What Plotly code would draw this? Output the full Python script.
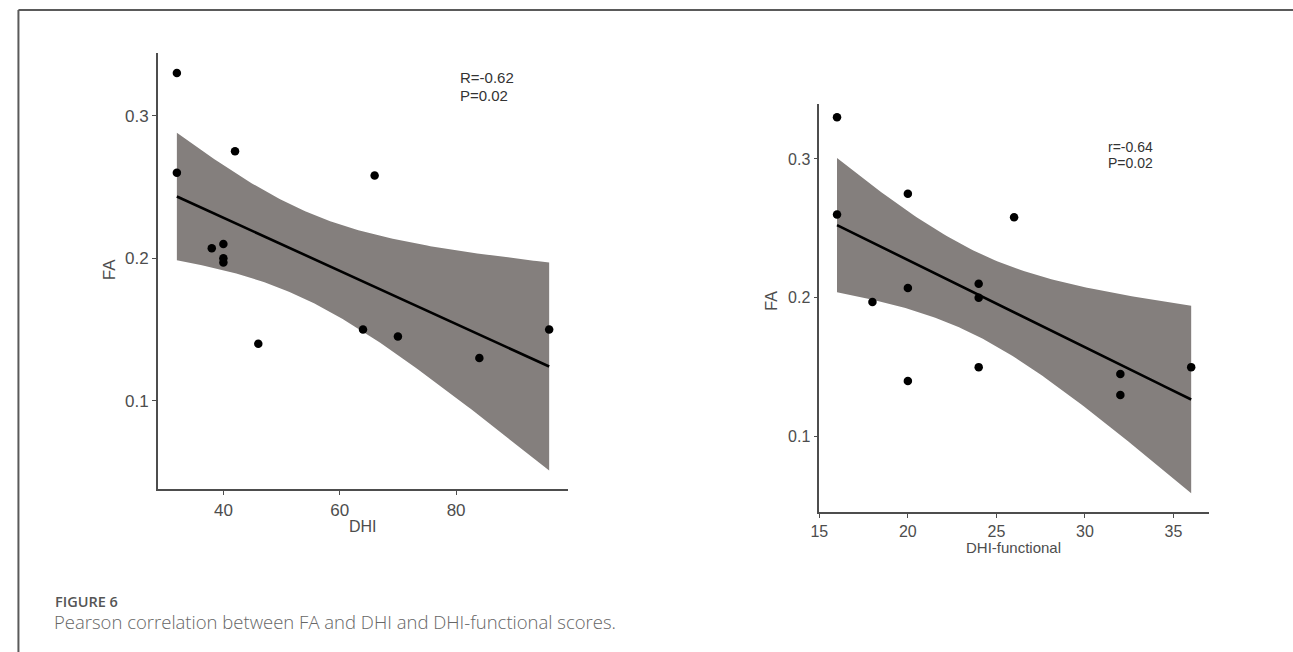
import numpy as np
import plotly.graph_objects as go

# ---------------- data ----------------
fa_values = [0.33, 0.26, 0.275, 0.258, 0.207, 0.21, 0.20, 0.197, 0.14, 0.15, 0.145, 0.13, 0.15]
dhi_values = [32, 32, 42, 66, 38, 40, 40, 40, 46, 64, 70, 84, 96]
dhi_functional_values = [16, 16, 20, 26, 20, 24, 24, 18, 20, 24, 32, 32, 36]

left_xticks = [40, 60, 80]
right_xticks = [15, 20, 25, 30, 35]
fa_ticks = [0.1, 0.2, 0.3]
fa_tick_labels = ["0.1", "0.2", "0.3"]

left_stats = ["R=-0.62", "P=0.02"]
right_stats = ["r=-0.64", "P=0.02"]

T_CRIT = 2.201  # t(0.975, df=11)

W, H = 1293, 652
BAND = "#847f7d"
AXIS = "#4d4d4d"
TICKFONT = "Liberation Sans, Arial, sans-serif"


def px_x(p):
    return p / W


def px_y(p):
    return (H - p) / H


def fit_band(x, y, n=120):
    x = np.asarray(x, float)
    y = np.asarray(y, float)
    slope, intercept = np.polyfit(x, y, 1)
    resid = y - (slope * x + intercept)
    s = np.sqrt(np.sum(resid ** 2) / (len(x) - 2))
    sxx = np.sum((x - x.mean()) ** 2)
    xs = np.linspace(x.min(), x.max(), n)
    yh = slope * xs + intercept
    se = s * np.sqrt(1 / len(x) + (xs - x.mean()) ** 2 / sxx)
    return xs, yh, yh - T_CRIT * se, yh + T_CRIT * se


fig = go.Figure()


def add_panel(x, y, xa, ya):
    xs, yh, lo, hi = fit_band(x, y)
    fig.add_trace(go.Scatter(
        x=np.concatenate([xs, xs[::-1]]), y=np.concatenate([hi, lo[::-1]]),
        fill="toself", fillcolor=BAND, line=dict(width=0), mode="lines",
        hoverinfo="skip", showlegend=False, xaxis=xa, yaxis=ya))
    fig.add_trace(go.Scatter(
        x=xs, y=yh, mode="lines", line=dict(color="black", width=2.6),
        showlegend=False, xaxis=xa, yaxis=ya))
    fig.add_trace(go.Scatter(
        x=x, y=y, mode="markers", marker=dict(color="black", size=8.5),
        showlegend=False, xaxis=xa, yaxis=ya))


add_panel(dhi_values, fa_values, "x", "y")
add_panel(dhi_functional_values, fa_values, "x2", "y2")

axis_common = dict(
    showgrid=False, zeroline=False, showline=True, linecolor=AXIS, linewidth=1.6,
    ticks="outside", ticklen=4, tickwidth=1.2, tickcolor=AXIS,
    tickfont=dict(family=TICKFONT, size=17, color=AXIS), fixedrange=True,
)

fig.update_layout(
    width=W, height=H, margin=dict(l=0, r=0, t=0, b=0),
    paper_bgcolor="white", plot_bgcolor="white", showlegend=False,
    xaxis=dict(domain=[px_x(150), px_x(562.7)], range=[28.75, 99.2],
               tickvals=left_xticks, anchor="y", **axis_common),
    yaxis=dict(domain=[px_y(489.3), px_y(53)], range=[0.0378, 0.344],
               tickvals=fa_ticks, ticktext=fa_tick_labels, anchor="x", **axis_common),
    xaxis2=dict(domain=[px_x(816), px_x(1208.3)], range=[15, 37],
                tickvals=right_xticks, anchor="y2", **axis_common),
    yaxis2=dict(domain=[px_y(512.3), px_y(104)], range=[0.0454, 0.3396],
                tickvals=fa_ticks, ticktext=fa_tick_labels, anchor="x2", **axis_common),
)
fig.update_xaxes(tickfont_size=16, selector=dict(anchor="y2"))
fig.update_yaxes(tickfont_size=16, selector=dict(anchor="x2"))

ann = []
# axis titles
ann.append(dict(text="FA", x=px_x(101), y=px_y(270), textangle=-90,
                font=dict(family=TICKFONT, size=17, color=AXIS)))
ann.append(dict(text="DHI", x=px_x(356), y=px_y(526),
                font=dict(family=TICKFONT, size=16, color=AXIS)))
ann.append(dict(text="FA", x=px_x(767), y=px_y(301), textangle=-90,
                font=dict(family=TICKFONT, size=16, color=AXIS)))
ann.append(dict(text="DHI-functional", x=px_x(1012), y=px_y(547),
                font=dict(family=TICKFONT, size=15, color=AXIS)))
# stats text
for i, t in enumerate(left_stats):
    ann.append(dict(text=t, x=px_x(452), y=px_y(77.5 + 18.3 * i), xanchor="left",
                    font=dict(family=TICKFONT, size=15, color="#333333")))
for i, t in enumerate(right_stats):
    ann.append(dict(text=t, x=px_x(1105), y=px_y(146.7 + 16.6 * i), xanchor="left",
                    font=dict(family=TICKFONT, size=14, color="#333333")))
# caption
ann.append(dict(text="FIGURE 6", x=px_x(44), y=px_y(601), xanchor="left",
                font=dict(family="Open Sans, sans-serif", size=14.5, color="#555555", weight=600)))
ann.append(dict(text="Pearson correlation between FA and DHI and DHI-functional scores.",
                x=px_x(43), y=px_y(621), xanchor="left",
                font=dict(family="Open Sans, sans-serif", size=18.5, color="#666666", weight=300)))

for a in ann:
    a.update(xref="paper", yref="paper", showarrow=False)
    a.setdefault("xanchor", "center")
    a.setdefault("yanchor", "middle")
fig.update_layout(annotations=ann)

# figure frame (top and left border)
fig.add_shape(type="line", xref="paper", yref="paper",
              x0=px_x(9.5), x1=1, y0=px_y(10), y1=px_y(10),
              line=dict(color="#5a5a5a", width=2))
fig.add_shape(type="line", xref="paper", yref="paper",
              x0=px_x(9.5), x1=px_x(9.5), y0=px_y(10), y1=0,
              line=dict(color="#5a5a5a", width=2))

fig.write_html("out.html")
